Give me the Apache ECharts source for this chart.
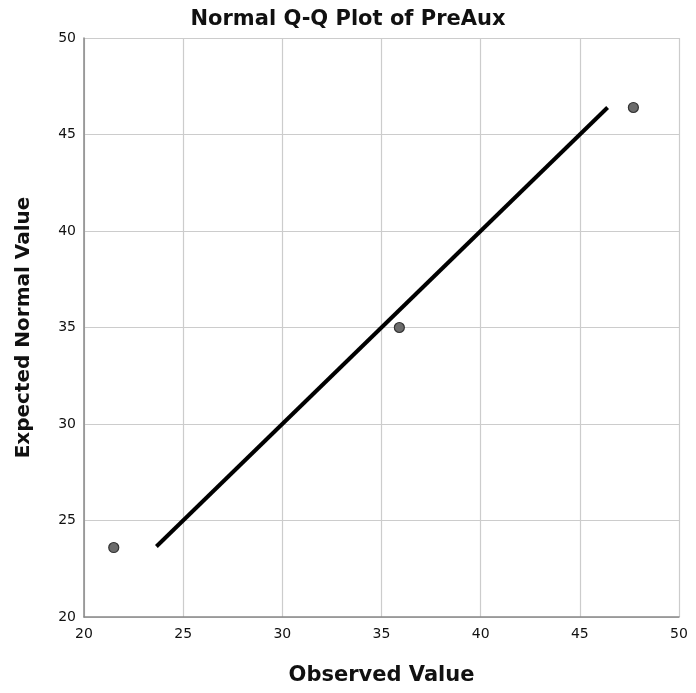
<!DOCTYPE html>
<html>
<head>
<meta charset="utf-8">
<script src="https://cdn.jsdelivr.net/npm/echarts@6/dist/echarts.min.js"></script>
<style>
  html, body { margin: 0; padding: 0; background: #fff; }
  #qqChart { width: 696px; height: 693px; }
</style>
</head>
<body>
<div id="qqChart"></div>
<script>
// observed vs expected normal values
const observed = [21.5, 35.9, 47.7];
const expected = [23.6, 35.0, 46.4];
// reference line y = x
const lineEnds = [23.65, 46.4];
const xTicks = [20, 25, 30, 35, 40, 45, 50];
const yTicks = [20, 25, 30, 35, 40, 45, 50];

const font = 'DejaVu Sans';
const myChart = echarts.init(document.getElementById('qqChart'));

const option = {
  animation: false,
  title: {
    text: 'Normal Q-Q Plot of PreAux',
    left: 'center',
    top: 4,
    textStyle: { fontFamily: font, fontSize: 21, fontWeight: 'bold', color: '#111' },
  },
  grid: { left: 84, right: 17, top: 38, bottom: 76 },
  xAxis: {
    type: 'value',
    min: xTicks[0],
    max: xTicks[xTicks.length - 1],
    interval: 5,
    name: 'Observed Value',
    nameLocation: 'middle',
    nameGap: 48,
    nameTextStyle: { fontFamily: font, fontSize: 21, fontWeight: 'bold', color: '#111' },
    axisLine: { lineStyle: { color: '#888', width: 1.5 } },
    axisTick: { show: false },
    axisLabel: { fontFamily: font, fontSize: 14, color: '#111', margin: 10 },
    splitLine: { lineStyle: { color: '#ccc', width: 1.2 } },
  },
  yAxis: {
    type: 'value',
    min: yTicks[0],
    max: yTicks[yTicks.length - 1],
    interval: 5,
    name: 'Expected Normal Value',
    nameLocation: 'middle',
    nameGap: 50,
    nameTextStyle: { fontFamily: font, fontSize: 20, fontWeight: 'bold', color: '#111' },
    axisLine: { show: true, lineStyle: { color: '#888', width: 1.5 } },
    axisTick: { show: false },
    axisLabel: { fontFamily: font, fontSize: 14, color: '#111', margin: 8 },
    splitLine: { lineStyle: { color: '#ccc', width: 1.2 } },
  },
  series: [
    {
      type: 'line',
      data: lineEnds.map(v => [v, v]),
      symbol: 'none',
      lineStyle: { color: '#000', width: 4 },
      z: 2,
    },
    {
      type: 'scatter',
      data: observed.map((v, i) => [v, expected[i]]),
      symbolSize: 10,
      itemStyle: { color: '#6b6b6b', borderColor: '#333', borderWidth: 1.2, opacity: 1 },
      z: 3,
    },
  ],
};
myChart.setOption(option);
window.addEventListener('resize', () => {
  myChart.resize();
});
</script>
</body>
</html>
